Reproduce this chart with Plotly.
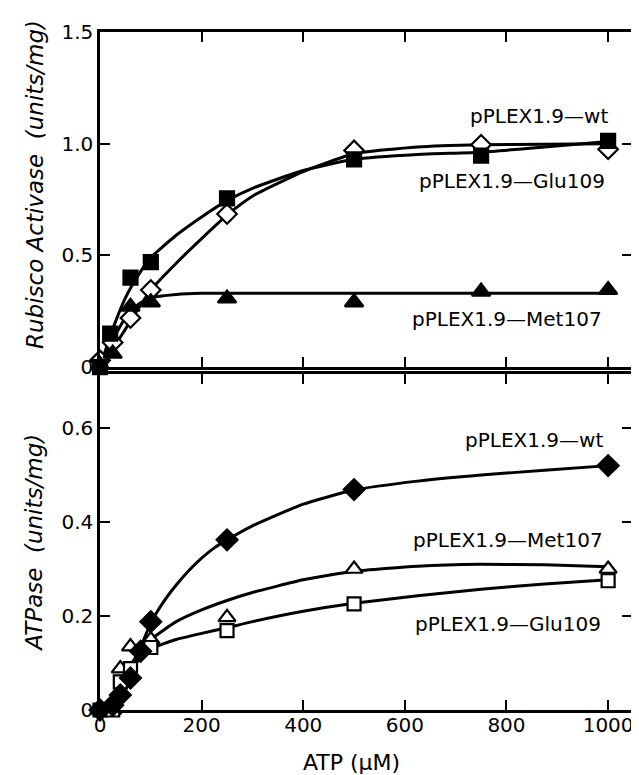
import plotly.graph_objects as go

# ---------------- data: top panel (Rubisco activase activity) ----------------
top_wt_x = [0, 25, 60, 100, 250, 500, 750, 1000]
top_wt_y = [0.03, 0.11, 0.22, 0.345, 0.685, 0.97, 0.995, 0.975]
top_glu_x = [0, 20, 60, 100, 250, 500, 750, 1000]
top_glu_y = [0.0, 0.15, 0.40, 0.47, 0.755, 0.93, 0.947, 1.013]
top_met_x = [0, 25, 60, 100, 250, 500, 750, 1000]
top_met_y = [0.01, 0.06, 0.27, 0.29, 0.307, 0.29, 0.338, 0.345]

# fitted curves
top_wt_cx = [0, 25, 50, 75, 100, 150, 200, 250, 300, 400, 500, 625, 750, 875, 1000]
top_wt_cy = [0, 0.08, 0.17, 0.26, 0.345, 0.465, 0.575, 0.68, 0.765, 0.875, 0.955, 0.985, 0.995, 0.998, 1.0]
top_glu_cx = [0, 25, 50, 75, 100, 150, 200, 250, 300, 400, 500, 625, 750, 875, 1000]
top_glu_cy = [0, 0.17, 0.31, 0.41, 0.49, 0.59, 0.672, 0.745, 0.80, 0.88, 0.93, 0.952, 0.962, 0.985, 1.01]
top_met_cx = [0, 25, 50, 75, 100, 150, 200, 300, 500, 1000]
top_met_cy = [0, 0.12, 0.22, 0.28, 0.31, 0.325, 0.33, 0.33, 0.33, 0.33]

# ---------------- data: bottom panel (ATPase activity) ----------------
bot_wt_x = [0, 25, 40, 60, 80, 100, 250, 500, 1000]
bot_wt_y = [0.0, 0.01, 0.032, 0.068, 0.125, 0.188, 0.362, 0.469, 0.52]
bot_met_x = [0, 25, 40, 60, 100, 250, 500, 1000]
bot_met_y = [0.0, 0.0, 0.088, 0.135, 0.15, 0.197, 0.30, 0.30]
bot_glu_x = [0, 25, 40, 60, 100, 250, 500, 1000]
bot_glu_y = [0.0, 0.0, 0.06, 0.088, 0.133, 0.169, 0.226, 0.275]

bot_wt_cx = [0, 25, 50, 75, 100, 125, 150, 175, 200, 225, 250, 300, 400, 500, 625, 750, 875, 1000]
bot_wt_cy = [0, 0.01, 0.05, 0.12, 0.185, 0.23, 0.266, 0.297, 0.323, 0.345, 0.362, 0.392, 0.438, 0.468, 0.487, 0.50, 0.51, 0.52]
bot_met_cx = [0, 25, 50, 75, 100, 150, 200, 250, 300, 400, 500, 625, 750, 875, 1000]
bot_met_cy = [0, 0.02, 0.075, 0.12, 0.15, 0.188, 0.213, 0.233, 0.25, 0.277, 0.295, 0.306, 0.31, 0.309, 0.305]
bot_glu_cx = [0, 25, 50, 75, 100, 150, 200, 250, 300, 400, 500, 625, 750, 875, 1000]
bot_glu_cy = [0, 0.015, 0.065, 0.105, 0.13, 0.15, 0.163, 0.175, 0.188, 0.21, 0.227, 0.243, 0.257, 0.268, 0.277]

x_ticks = [0, 200, 400, 600, 800, 1000]
top_y_ticks = [0, 0.5, 1.0, 1.5]
top_y_labels = ["0", "0.5", "1.0", "1.5"]
bot_y_ticks = [0, 0.2, 0.4, 0.6]
bot_y_labels = ["0", "0.2", "0.4", "0.6"]

FONT = "DejaVu Sans"
LW = 3

fig = go.Figure()

def curve(x, y, xa, ya, name):
    fig.add_trace(go.Scatter(x=x, y=y, mode="lines", line=dict(color="black", width=LW, shape="spline", smoothing=0.5),
                             xaxis=xa, yaxis=ya, showlegend=False, hoverinfo="skip", name=name))

def pts(x, y, xa, ya, symbol, filled, size, name):
    fig.add_trace(go.Scatter(x=x, y=y, mode="markers", xaxis=xa, yaxis=ya, showlegend=False, name=name,
                             cliponaxis=False,
                             marker=dict(symbol=symbol, size=size,
                                         color="black" if filled else "white",
                                         line=dict(color="black", width=2.2))))

# top panel
curve(top_wt_cx, top_wt_cy, "x", "y", "wt fit")
curve(top_glu_cx, top_glu_cy, "x", "y", "Glu109 fit")
curve(top_met_cx, top_met_cy, "x", "y", "Met107 fit")
pts(top_wt_x, top_wt_y, "x", "y", "diamond", False, 15, "pPLEX1.9-wt")
pts(top_glu_x, top_glu_y, "x", "y", "square", True, 14, "pPLEX1.9-Glu109")
pts(top_met_x, top_met_y, "x", "y", "triangle-up", True, 16, "pPLEX1.9-Met107")

# bottom panel
curve(bot_wt_cx, bot_wt_cy, "x2", "y2", "wt fit")
curve(bot_met_cx, bot_met_cy, "x2", "y2", "Met107 fit")
curve(bot_glu_cx, bot_glu_cy, "x2", "y2", "Glu109 fit")
pts(bot_met_x, bot_met_y, "x2", "y2", "triangle-up", False, 15, "pPLEX1.9-Met107")
pts(bot_glu_x, bot_glu_y, "x2", "y2", "square", False, 13, "pPLEX1.9-Glu109")
pts(bot_wt_x, bot_wt_y, "x2", "y2", "diamond", True, 16, "pPLEX1.9-wt")

axis_common = dict(showgrid=False, zeroline=False, showline=True, linecolor="black", linewidth=2.5,
                   mirror="ticks", ticks="inside", ticklen=10, tickwidth=2, tickcolor="black",
                   tickfont=dict(family=FONT, size=20, color="black"))

fig.update_layout(
    width=639, height=775,
    margin=dict(l=92, r=12, t=18, b=73),
    paper_bgcolor="white", plot_bgcolor="white",
    xaxis=dict(domain=[0, 1], anchor="y", range=[0, 1047], tickvals=x_ticks, showticklabels=False, **axis_common),
    yaxis=dict(domain=[0.5058, 1], anchor="x", range=[0, 1.5], tickvals=top_y_ticks, ticktext=top_y_labels, **axis_common),
    xaxis2=dict(domain=[0, 1], anchor="y2", range=[0, 1047], tickvals=x_ticks, ticklabelstandoff=-5,
                ticktext=[str(v) for v in x_ticks], **axis_common),
    yaxis2=dict(domain=[0, 0.4956], anchor="x2", range=[0, 0.715], tickvals=bot_y_ticks, ticktext=bot_y_labels, **axis_common),
)

ann_font = dict(family=FONT, size=20, color="black")
labels = [
    ("x", "y", 1004, 1.123, "pPLEX1.9—wt"),
    ("x", "y", 998, 0.834, "pPLEX1.9—Glu109"),
    ("x", "y", 992, 0.213, "pPLEX1.9—Met107"),
    ("x2", "y2", 994, 0.574, "pPLEX1.9—wt"),
    ("x2", "y2", 994, 0.362, "pPLEX1.9—Met107"),
    ("x2", "y2", 990, 0.183, "pPLEX1.9—Glu109"),
]
for xr, yr, xv, yv, t in labels:
    fig.add_annotation(xref=xr, yref=yr, x=xv, y=yv, text=t, showarrow=False,
                       xanchor="right", yanchor="middle", font=ann_font)

# axis titles
fig.add_annotation(xref="paper", yref="paper", x=(26 - 92) / 535, y=(702 - 172) / 684,
                   text="<i>Rubisco Activase  (units/mg)</i>", textangle=-90, showarrow=False,
                   xanchor="center", yanchor="middle", font=dict(family=FONT, size=23, color="black"))
fig.add_annotation(xref="paper", yref="paper", x=(26 - 92) / 535, y=(702 - 533) / 684,
                   text="<i>ATPase  (units/mg)</i>", textangle=-90, showarrow=False,
                   xanchor="center", yanchor="middle", font=dict(family=FONT, size=23, color="black"))
fig.add_annotation(xref="paper", yref="paper", x=(345 - 92) / 535, y=(702 - 755) / 684,
                   text="ATP (μM)", showarrow=False,
                   xanchor="center", yanchor="middle", font=dict(family=FONT, size=22, color="black"))

fig.write_html("out.html")
